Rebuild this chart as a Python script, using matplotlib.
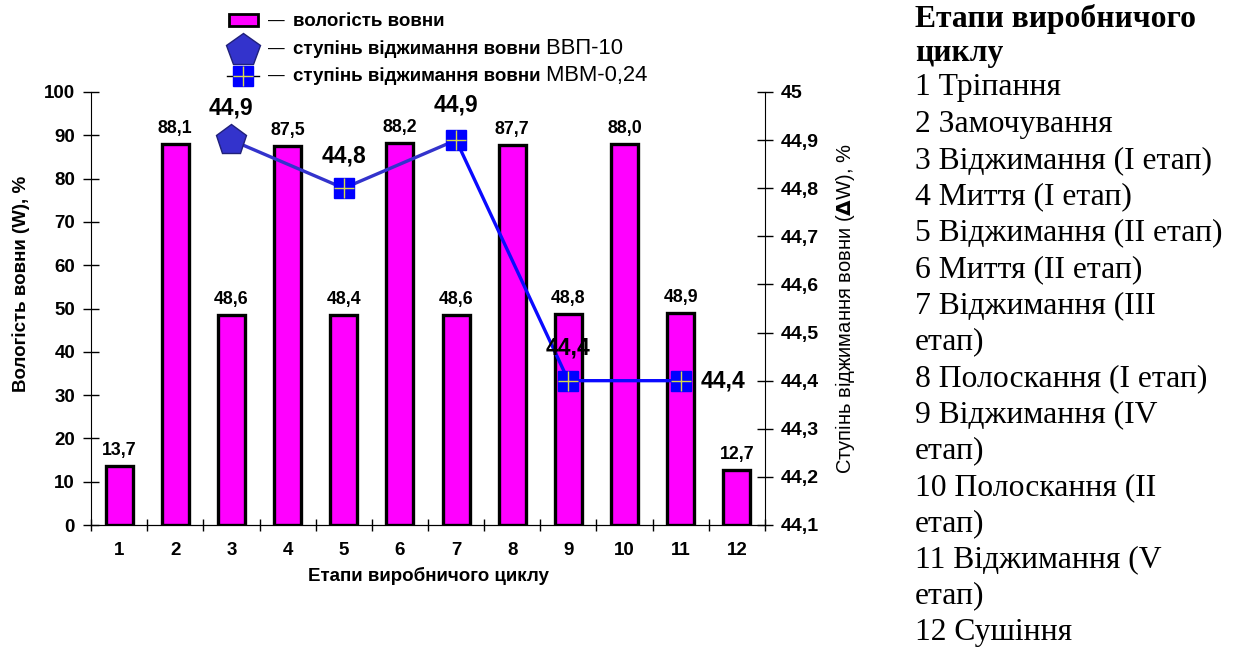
import matplotlib
matplotlib.use("Agg")
import matplotlib.pyplot as plt
from matplotlib.patches import Rectangle
from matplotlib.lines import Line2D

# data
stages = [1, 2, 3, 4, 5, 6, 7, 8, 9, 10, 11, 12]
moisture = [13.7, 88.1, 48.6, 87.5, 48.4, 88.2, 48.6, 87.7, 48.8, 88.0, 48.9, 12.7]

vvp_x = [3]
vvp_y = [44.9]
mvm_x = [5, 7, 9, 11]
mvm_y = [44.8, 44.9, 44.4, 44.4]

stage_names = [
    "1 Тріпання",
    "2 Замочування",
    "3 Віджимання (I етап)",
    "4 Миття (I етап)",
    "5 Віджимання (II етап)",
    "6 Миття (II етап)",
    "7 Віджимання (III\nетап)",
    "8 Полоскання (I етап)",
    "9 Віджимання (IV\nетап)",
    "10 Полоскання (II\nетап)",
    "11 Віджимання (V\nетап)",
    "12 Сушіння",
]

plt.rcParams["font.family"] = ["Liberation Sans", "DejaVu Sans"]

W, H = 1235, 653
fig = plt.figure(figsize=(W / 100, H / 100), dpi=100)
ax = fig.add_axes([91 / W, 1 - 525 / H, (765 - 91) / W, (525 - 92) / H])
ax2 = ax.twinx()


def comma(v):
    return f"{v:.1f}".replace(".", ",")


# bars
ax.bar(stages, moisture, width=0.48, color="#ff00ff", edgecolor="black", linewidth=2.4, zorder=2)
for x, v in zip(stages, moisture):
    ax.annotate(comma(v), (x, v), xytext=(0, 5), textcoords="offset points",
                ha="center", va="bottom", fontsize=12.8, fontweight="bold")

ax.set_xlim(0.5, 12.5)
ax.set_ylim(0, 100)
ax.set_yticks(range(0, 101, 10))
ax.set_xticks([s + 0.5 for s in [0] + stages])
ax.set_xticklabels([])
ax.set_xticks(stages, minor=True)
ax.set_xticklabels([str(s) for s in stages], minor=True, fontsize=13.5, fontweight="bold")
ax.tick_params(axis="x", which="major", direction="inout", length=9, width=1)
ax.tick_params(axis="x", which="minor", length=0, pad=12)
ax.tick_params(axis="y", direction="inout", length=11, width=1, labelsize=13.5, pad=6)
for lab in ax.get_yticklabels():
    lab.set_fontweight("bold")
ax.spines["top"].set_visible(False)
ax.spines["right"].set_visible(False)
ax.set_xlabel("Етапи виробничого циклу", fontsize=13.5, fontweight="bold", labelpad=6)
ax.set_ylabel("Вологість вовни (W), %", fontsize=13.5, fontweight="bold")
ax.yaxis.set_label_coords(-0.09, 0.557)

# line (right axis)
all_x = vvp_x + mvm_x
all_y = vvp_y + mvm_y
ax2.plot(all_x[:3], all_y[:3], color="#3333cc", linewidth=2.4, zorder=3)
ax2.plot(all_x[2:], all_y[2:], color="#0a0aff", linewidth=2.4, zorder=3)
ax2.plot(vvp_x, vvp_y, linestyle="none", marker="p", markersize=23,
         markerfacecolor="#3333cc", markeredgecolor="#20207a", markeredgewidth=1, zorder=4)
ax2.plot(mvm_x, mvm_y, linestyle="none", marker="s", markersize=14,
         markerfacecolor="#0000ff", markeredgecolor="#0000ff", zorder=4)
ax2.plot(mvm_x, mvm_y, linestyle="none", marker="+", markersize=14,
         markeredgecolor="#d9d94a", markeredgewidth=1, zorder=5)

offsets = [(0, 15), (0, 15), (0, 17), (0, 15), (14, 0)]
aligns = ["center", "center", "center", "center", "left"]
for x, v, off, al in zip(all_x, all_y, offsets, aligns):
    ax2.annotate(comma(v), (x, v), xytext=off, textcoords="offset points",
                 ha=al, va="bottom" if off[1] > 0 else "center",
                 fontsize=16.5, fontweight="bold", zorder=6)

ax2.set_ylim(44.1, 45.0)
yt = [44.1 + 0.1 * i for i in range(10)]
ax2.set_yticks(yt)
ax2.set_yticklabels([comma(t) if t < 44.95 else "45" for t in yt], fontsize=14, fontweight="bold")
ax2.tick_params(axis="y", direction="inout", length=11, width=1, pad=6)
ax2.spines["top"].set_visible(False)
ax2.spines["left"].set_visible(False)
ax2.set_ylabel("Ступінь віджимання вовни ($\\mathbf{\\Delta}$W), %", fontsize=14.5, labelpad=10)

# hand-made legend at the top
fx = lambda px: px / W
fy = lambda py: 1 - py / H
fig.add_artist(Rectangle((fx(229), fy(26)), 29 / W, 12 / H, transform=fig.transFigure,
                         facecolor="#ff00ff", edgecolor="black", linewidth=2))
fig.add_artist(Line2D([fx(243)], [fy(50)], transform=fig.transFigure, marker="p",
                      markersize=25, markerfacecolor="#3333cc", markeredgecolor="#20207a",
                      linestyle="none"))
fig.add_artist(Line2D([fx(227), fx(259)], [fy(76), fy(76)], transform=fig.transFigure,
                      color="black", linewidth=1))
fig.add_artist(Line2D([fx(243)], [fy(76)], transform=fig.transFigure, marker="s",
                      markersize=14, markerfacecolor="#0000ff", markeredgecolor="#0000ff",
                      linestyle="none"))
fig.add_artist(Line2D([fx(243)], [fy(76)], transform=fig.transFigure, marker="+",
                      markersize=14, markeredgecolor="#d9d94a", markeredgewidth=1,
                      linestyle="none"))

leg_rows = [("вологість вовни", ""), ("ступінь віджимання вовни", " ВВП-10"),
            ("ступінь віджимання вовни", " МВМ-0,24")]
for i, (bold_part, plain_part) in enumerate(leg_rows):
    y = [21, 49, 76][i]
    fig.text(fx(268), fy(y), "—", fontsize=12, va="center")
    t = fig.text(fx(293), fy(y), bold_part, fontsize=13.5, fontweight="bold", va="center")
    if plain_part:
        ax.annotate(plain_part, xy=(1, 0.5), xycoords=t, va="center", ha="left",
                    fontsize=15.8, annotation_clip=False)

# side panel with stage names
serif = ["Liberation Serif", "DejaVu Serif"]
for i, line in enumerate(["Етапи виробничого", "циклу"]):
    fig.text(fx(915), fy(19 + 34.5 * i), line, family=serif, fontsize=22.8,
             fontweight="bold", va="center", ha="left")
lines = []
for name in stage_names:
    lines.extend(name.split("\n"))
for i, line in enumerate(lines):
    fig.text(fx(915), fy(88 + 36.3 * i), line, family=serif, fontsize=22.8,
             va="center", ha="left")

fig.savefig("out.png", dpi=100)
